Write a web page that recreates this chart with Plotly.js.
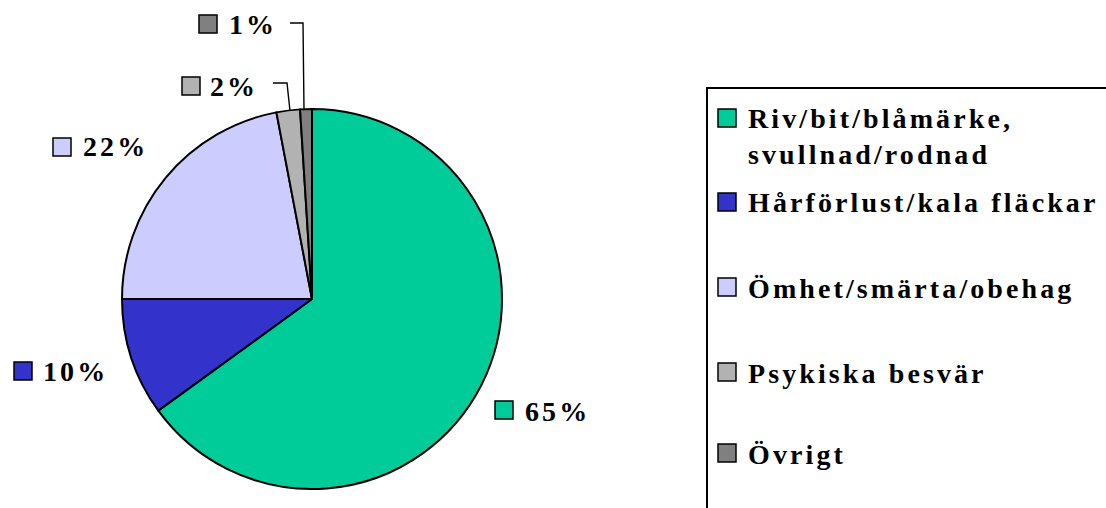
<!DOCTYPE html>
<html>
<head>
<meta charset="utf-8">
<script src="https://cdn.plot.ly/plotly-3.0.1.min.js"></script>
<style>
  html, body { margin: 0; padding: 0; background: #ffffff; }
  #chart { width: 1106px; height: 508px; }
  .annotation-text { letter-spacing: 3.1px; font-weight: bold; }
</style>
</head>
<body>
<div id="chart"></div>
<script>
// ---- data ----
const categories = ['Riv/bit/blåmärke,<br>svullnad/rodnad', 'Hårförlust/kala fläckar', 'Ömhet/smärta/obehag', 'Psykiska besvär', 'Övrigt'];
const values = [65, 10, 22, 2, 1];
const colors = ['#00CC99', '#3333CC', '#CCCCFF', '#B2B2B2', '#808080'];
const pctLabels = ['65%', '10%', '22%', '2%', '1%'];

// ---- layout helpers (pixel -> paper) ----
const W = 1106, H = 508;
const px = x => x / W;
const py = y => 1 - y / H;
const FONT = { family: 'Liberation Serif', size: 28, color: '#000000' };
const bold = s => s.split('<br>').map(p => '<b>' + p + '</b>').join('<br>');

// percentage label placement (square left, square top, text left, text centre y)
const labelPos = [
  { sx: 495, sy: 401, tx: 523, ty: 411 },
  { sx: 14,  sy: 362, tx: 41,  ty: 371 },
  { sx: 53,  sy: 138, tx: 81,  ty: 147 },
  { sx: 182, sy: 77,  tx: 208, ty: 86 },
  { sx: 199, sy: 15,  tx: 227, ty: 24 }
];
// legend rows (square top)
const legendRows = [109, 193, 278, 363, 444];
const SQ = 18;

const shapes = [];
const annotations = [];

// legend box
shapes.push({ type: 'rect', xref: 'paper', yref: 'paper', x0: px(707), x1: px(1115), y0: py(520), y1: py(88),
  line: { color: '#000', width: 2 }, fillcolor: 'rgba(0,0,0,0)' });

categories.forEach((c, i) => {
  const lp = labelPos[i];
  shapes.push({ type: 'rect', xref: 'paper', yref: 'paper', x0: px(lp.sx), x1: px(lp.sx + SQ), y0: py(lp.sy + SQ), y1: py(lp.sy),
    fillcolor: colors[i], line: { color: '#000', width: 1.5 } });
  annotations.push({ xref: 'paper', yref: 'paper', x: px(lp.tx), y: py(lp.ty), xanchor: 'left', yanchor: 'middle',
    text: bold(pctLabels[i]), showarrow: false, font: FONT });

  const ry = legendRows[i];
  shapes.push({ type: 'rect', xref: 'paper', yref: 'paper', x0: px(718), x1: px(718 + SQ), y0: py(ry + SQ), y1: py(ry),
    fillcolor: colors[i], line: { color: '#000', width: 1.5 } });
  const multi = c.indexOf('<br>') >= 0;
  annotations.push({ xref: 'paper', yref: 'paper', x: px(746), y: multi ? py(ry - 8) : py(ry + SQ / 2 + 1),
    xanchor: 'left', yanchor: multi ? 'top' : 'middle', align: 'left',
    text: bold(c), showarrow: false, font: FONT });
});

// leader lines for small slices
shapes.push({ type: 'path', xref: 'paper', yref: 'paper',
  path: `M ${px(273)} ${py(83)} L ${px(287)} ${py(83)} L ${px(290)} ${py(111)}`, line: { color: '#000', width: 1.4 } });
shapes.push({ type: 'path', xref: 'paper', yref: 'paper',
  path: `M ${px(290)} ${py(23)} L ${px(303)} ${py(23)} L ${px(304)} ${py(110)}`, line: { color: '#000', width: 1.4 } });

const trace = {
  type: 'pie',
  labels: categories,
  values: values,
  sort: false,
  direction: 'clockwise',
  rotation: 0,
  textinfo: 'none',
  hoverinfo: 'label+percent',
  marker: { colors: colors, line: { color: '#000000', width: 2 } },
  domain: { x: [px(122), px(502)], y: [py(489), py(109)] },
  showlegend: false
};

const layout = {
  width: W, height: H,
  margin: { l: 0, r: 0, t: 0, b: 0 },
  paper_bgcolor: '#ffffff',
  plot_bgcolor: '#ffffff',
  showlegend: false,
  shapes: shapes,
  annotations: annotations
};

Plotly.newPlot('chart', [trace], layout, { displayModeBar: false, staticPlot: true });
</script>
</body>
</html>
